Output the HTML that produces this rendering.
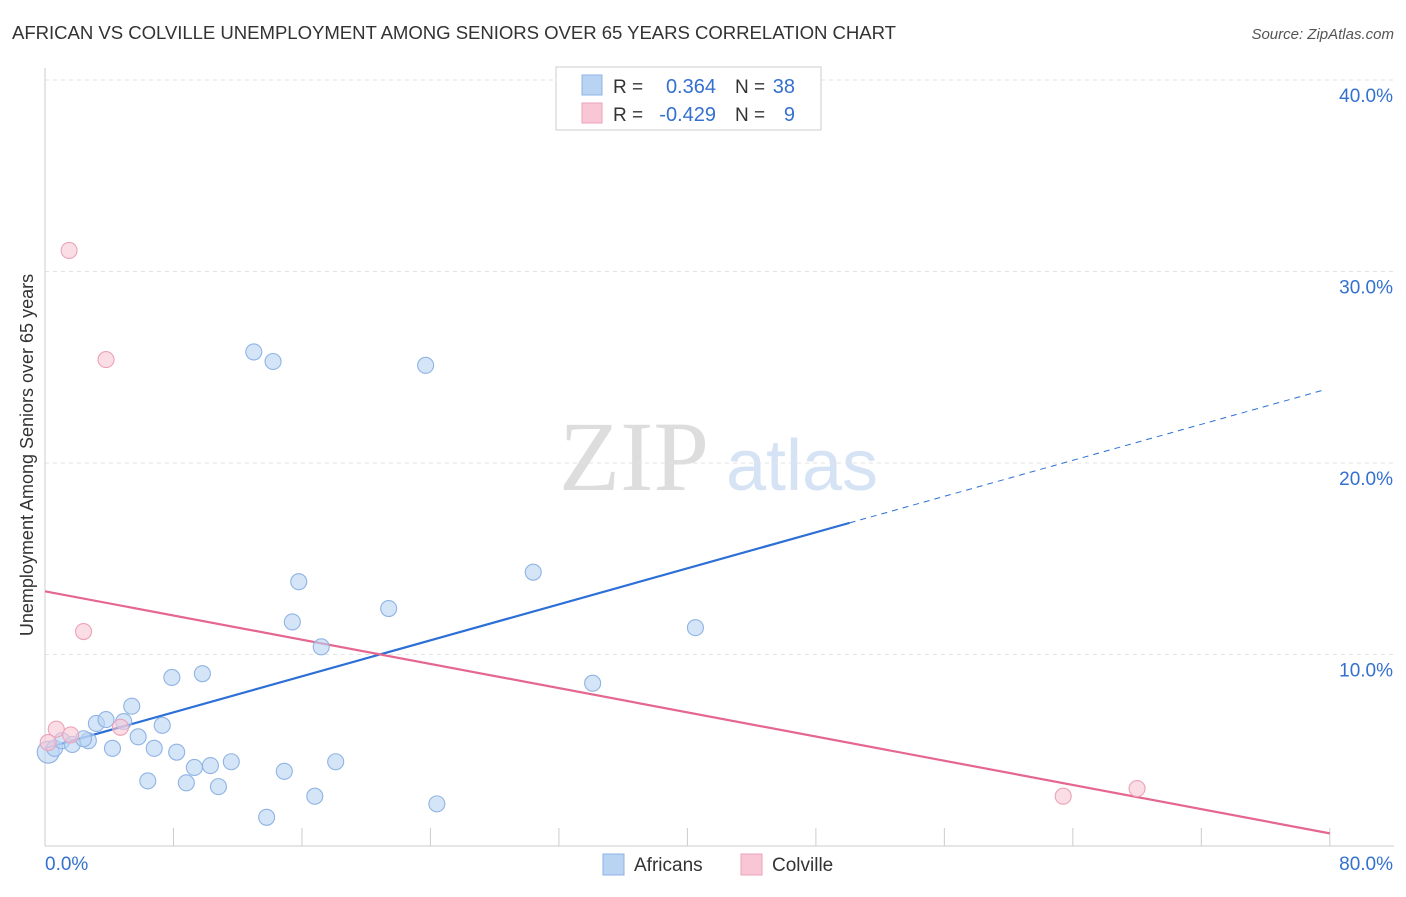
<!DOCTYPE html>
<html><head><meta charset="utf-8">
<style>
body{margin:0;background:#fff;font-family:"Liberation Sans",sans-serif;}
</style></head>
<body>
<svg id="chart" width="1406" height="892" viewBox="0 0 1406 892" xmlns="http://www.w3.org/2000/svg" font-family="Liberation Sans, sans-serif">
<text x="12" y="39" font-size="18.6" fill="#333" textLength="884">AFRICAN VS COLVILLE UNEMPLOYMENT AMONG SENIORS OVER 65 YEARS CORRELATION CHART</text>
<text x="1394" y="39" font-size="15" fill="#555" font-style="italic" text-anchor="end">Source: ZipAtlas.com</text>
<g>
<text x="634" y="490" font-size="100" fill="#ddd" style="font-family:'Liberation Serif',serif" text-anchor="middle">ZIP</text>
<text x="802" y="490" font-size="72" fill="#d5e3f5" text-anchor="middle">atlas</text>
</g>
<g id="grid"></g>
<g id="axes"></g>
<g id="lines"></g>
<g id="points"></g>
<text x="33" y="455" font-size="18" fill="#333" text-anchor="middle" transform="rotate(-90 33 455)">Unemployment Among Seniors over 65 years</text>
<g>
<rect x="556" y="67" width="265" height="63" fill="#fff" stroke="#ccc"/>
<rect x="582" y="75" width="20" height="20" fill="#b9d3f3" stroke="#8fb3e3"/>
<rect x="582" y="103" width="20" height="20" fill="#f9c6d5" stroke="#eba3b9"/>
<text x="613" y="93" font-size="19" fill="#333">R =</text>
<text x="716" y="93" font-size="20" fill="#3470d0" text-anchor="end">0.364</text>
<text x="735" y="93" font-size="19" fill="#333">N =</text>
<text x="795" y="93" font-size="20" fill="#3470d0" text-anchor="end">38</text>
<text x="613" y="121" font-size="19" fill="#333">R =</text>
<text x="716" y="121" font-size="20" fill="#3470d0" text-anchor="end">-0.429</text>
<text x="735" y="121" font-size="19" fill="#333">N =</text>
<text x="795" y="121" font-size="20" fill="#3470d0" text-anchor="end">9</text>
</g>
<g>
<rect x="603" y="854" width="21" height="21" fill="#b9d3f3" stroke="#8fb3e3"/>
<text x="634" y="871" font-size="19" fill="#333">Africans</text>
<rect x="741" y="854" width="21" height="21" fill="#f9c6d5" stroke="#eba3b9"/>
<text x="772" y="871" font-size="19" fill="#333">Colville</text>
</g>
</svg>
<script>
const yTicks=[10,20,30,40];
const yTickLabels=["10.0%","20.0%","30.0%","40.0%"];
const xTickLabels=["0.0%","80.0%"];
const africansX=[0.2,0.6,1.06,1.7,2.7,2.4,3.2,3.8,4.2,4.9,5.4,5.8,6.4,6.8,7.3,7.9,8.2,8.8,9.3,9.8,10.3,10.8,11.6,13.0,13.8,14.2,14.9,15.4,15.8,16.8,17.2,18.1,21.4,23.7,24.4,30.4,34.1,40.5];
const africansY=[4.9,5.1,5.5,5.3,5.5,5.6,6.4,6.6,5.1,6.5,7.3,5.7,3.4,5.1,6.3,8.8,4.9,3.3,4.1,9.0,4.2,3.1,4.4,25.8,1.5,25.3,3.9,11.7,13.8,2.6,10.4,4.4,12.4,25.1,2.2,14.3,8.5,11.4];
const colvilleX=[1.5,3.8,2.4,0.7,1.6,4.7,0.2,63.4,68.0];
const colvilleY=[31.1,25.4,11.2,6.1,5.8,6.2,5.4,2.6,3.0];
const africansTrend=[5.1,0.235];
const colvilleTrend=[13.3,-0.158];
const NS="http://www.w3.org/2000/svg";
const sx=v=>45+v*16.06;
const sy=v=>846-v*19.15;
function mk(tag,attrs,parent){const e=document.createElementNS(NS,tag);for(const k in attrs)e.setAttribute(k,attrs[k]);parent.appendChild(e);return e;}
const grid=document.getElementById('grid'),axes=document.getElementById('axes'),lines=document.getElementById('lines'),pts=document.getElementById('points');
yTicks.forEach((t,i)=>{
 const l=mk('line',{x1:45,x2:1394,y1:sy(t),y2:sy(t),stroke:'#e3e3e3','stroke-dasharray':'4,4'},grid);
 
 
 const tx=mk('text',{x:1393,y:sy(t)+22,'font-size':19,fill:'#3470d0','text-anchor':'end'},axes);
 tx.textContent=yTickLabels[i];
 
 
});
const tl=mk('line',{x1:45,x2:1394,y1:80,y2:80,stroke:'#e3e3e3','stroke-dasharray':'4,4'},grid);


const ya=mk('line',{x1:45,x2:45,y1:68,y2:846,stroke:'#ccc'},axes);


const xa=mk('line',{x1:45,x2:1394,y1:846,y2:846,stroke:'#ccc'},axes);


for(let i=1;i<=10;i++){
 const t=mk('line',{x1:sx(i*8),x2:sx(i*8),y1:828,y2:846,stroke:'#ccc'},axes);
 
 
}
const xl0=mk('text',{x:45,y:870,'font-size':19,fill:'#3470d0'},axes);xl0.textContent=xTickLabels[0];


const xl1=mk('text',{x:1393,y:870,'font-size':19,fill:'#3470d0','text-anchor':'end'},axes);xl1.textContent=xTickLabels[1];


const aEnd=50.1;
const b1=mk('line',{x1:sx(0),y1:sy(africansTrend[0]),x2:sx(aEnd),y2:sy(africansTrend[0]+africansTrend[1]*aEnd),stroke:'#2c6fd6','stroke-width':2.2},lines);


const b2=mk('line',{x1:sx(aEnd),y1:sy(africansTrend[0]+africansTrend[1]*aEnd),x2:sx(79.7),y2:sy(africansTrend[0]+africansTrend[1]*79.7),stroke:'#2c6fd6','stroke-width':1,'stroke-dasharray':'6,5'},lines);


const p1=mk('line',{x1:sx(0),y1:sy(colvilleTrend[0]),x2:sx(80),y2:sy(colvilleTrend[0]+colvilleTrend[1]*80),stroke:'#e5668f','stroke-width':2.2},lines);


africansX.forEach((x,i)=>{
 const c=mk('circle',{cx:sx(x),cy:sy(africansY[i]),r:i==0?11:8,fill:'rgba(185,211,243,0.6)',stroke:'#8fb3e3','stroke-width':1.1},pts);
 
 
});
colvilleX.forEach((x,i)=>{
 const c=mk('circle',{cx:sx(x),cy:sy(colvilleY[i]),r:8,fill:'rgba(249,198,213,0.6)',stroke:'#eba3b9','stroke-width':1.1},pts);
 
 
});
</script>
</body></html>
